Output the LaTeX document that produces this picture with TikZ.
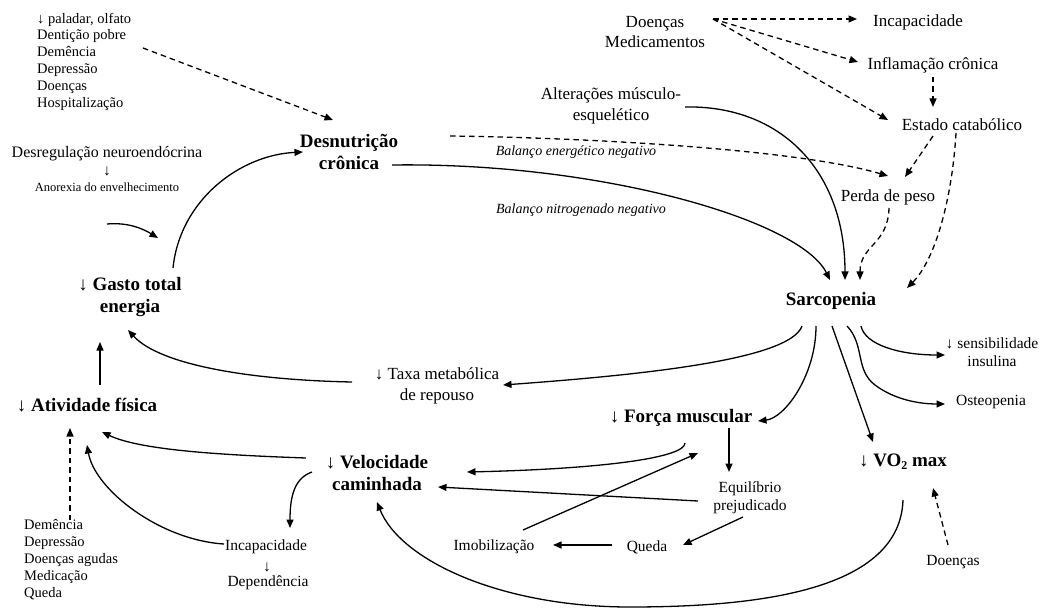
\documentclass[tikz,border=0pt]{standalone}
\usepackage{fontspec}
\setmainfont{Liberation Serif}
\usetikzlibrary{arrows.meta,calc}
\tikzset{
 bl/.style={font=\fontsize{19}{22}\selectfont\bfseries, align=center, inner sep=0pt},
 rg/.style={font=\fontsize{17}{21}\selectfont, align=center, inner sep=0pt},
 sm/.style={font=\fontsize{15.5}{18.5}\selectfont, align=center, inner sep=0pt},
 xs/.style={font=\fontsize{12.5}{14}\selectfont, align=center, inner sep=0pt},
 lst/.style={font=\fontsize{14.5}{16.8}\selectfont, align=left, inner sep=0pt, anchor=west},
 itl/.style={font=\fontsize{14}{16}\selectfont\itshape, inner sep=0pt},
 ar/.style={line width=1.3pt, -{Triangle[length=8.5pt,width=7pt]}},
 da/.style={ar, dash pattern=on 5.5pt off 4pt},
}
\begin{document}
\begin{tikzpicture}[x=1pt,y=-1pt]
\useasboundingbox (0,0) rectangle (1040,609);
% nodes
\node[lst] (list1) at (37,61.5) {↓ paladar, olfato\\Dentição pobre\\Demência\\Depressão\\Doenças\\Hospitalização};
\node[sm, font=\fontsize{16}{18.5}\selectfont] (desreg) at (107,154) {Desregulação neuroendócrina};
\node[sm] (arrA) at (107,171) {↓};
\node[xs] (anor) at (107,187) {Anorexia do envelhecimento};
\node[bl] (desn) at (349,151.5) {Desnutrição\\crônica};
\node[bl] (gasto) at (130,297.5) {↓ Gasto total\\energia};
\node[bl] (ativ) at (87,405) {↓ Atividade física};
\node[rg] (taxa) at (437,386) {↓ Taxa metabólica\\de repouso};
\node[bl] (sarc) at (831,301) {Sarcopenia};
\node[rg] (alter) at (611,106) {Alterações músculo-\\esquelético};
\node[rg, font=\fontsize{17}{20}\selectfont] (doen) at (655,32) {Doenças\\Medicamentos};
\node[rg] (incapT) at (918,22) {Incapacidade};
\node[rg] (infl) at (933,65) {Inflamação crônica};
\node[rg] (estado) at (962,125) {Estado catabólico};
\node[rg] (perda) at (888,197) {Perda de peso};
\node[itl] (balE) at (576,152) {Balanço energético negativo};
\node[itl] (balN) at (581,210) {Balanço nitrogenado negativo};
\node[sm] (sens) at (992,352) {↓ sensibilidade\\insulina};
\node[sm] (osteo) at (991,402) {Osteopenia};
\node[bl] (forca) at (681,418) {↓ Força muscular};
\node[bl] (vo2) at (903,462) {↓ VO\raisebox{-0.35ex}{\fontsize{12}{12}\selectfont 2} max};
\node[sm] (equil) at (750,498) {Equilíbrio\\prejudicado};
\node[sm] (queda) at (647,547) {Queda};
\node[sm] (imob) at (494,547) {Imobilização};
\node[bl] (veloc) at (377,472.5) {↓ Velocidade\\caminhada};
\node[sm] (incapB) at (266,547) {Incapacidade};
\node[sm] (arrB) at (267,567) {↓};
\node[sm] (dep) at (268,583) {Dependência};
\node[lst, font=\fontsize{14.5}{17}\selectfont] (dem) at (24,560) {Demência\\Depressão\\Doenças agudas\\Medicação\\Queda};
\node[sm] (doenB) at (953,562) {Doenças};
\coordinate (sa) at (158,238);
% connectors
\draw[da] ($(list1.west)+(106,-13.5)$) -- ($(desn)+(-16,-31.5)$);
\draw[ar] ($(anor)+(0,37)$) .. controls (130,222) and (145,230) .. (sa);
\draw[ar] ($(gasto)+(43,-29.5)$) .. controls (180,200) and (240,155) .. ($(desn)+(-46,0.5)$);
\draw[ar] ($(ativ)+(13,-20)$) -- ($(gasto)+(-30,44.5)$);
\draw[ar] ($(taxa)+(-85,-4)$) .. controls (250,380) and (160,365) .. ($(gasto)+(-2,32.5)$);
\draw[ar] ($(sarc)+(-29,25)$) .. controls (790,360) and (640,375) .. ($(taxa)+(66,-1)$);
\draw[ar] ($(desn)+(43,13.5)$) .. controls (600,162) and (800,220) .. ($(sarc)+(-1,-21)$);
\draw[ar] ($(alter)+(74,1)$) .. controls (780,105) and (845,170) .. ($(sarc)+(14,-21)$);
\draw[da] ($(desn)+(101,-15.5)$) .. controls (600,138) and (800,150) .. ($(perda)+(0,-21)$);
\draw[da] ($(doen)+(58,-13)$) -- ($(incapT)+(-61,-3)$);
\draw[da] ($(doen)+(58,-13)$) -- ($(infl)+(-75,-3)$);
\draw[da] ($(doen)+(58,-13)$) -- ($(estado)+(-74,-5)$);
\draw[da] ($(infl)+(0,12)$) -- ($(estado)+(-29,-18)$);
\draw[da] ($(estado)+(-29,11)$) -- ($(perda)+(17,-20)$);
\draw[da] ($(estado)+(-6,8)$) .. controls (952,200) and (935,260) .. ($(sarc)+(76,-13)$);
\draw[da] ($(perda)+(1,11)$) .. controls (888,245) and (860,245) .. ($(sarc)+(29,-21)$);
\draw[ar] ($(sarc)+(30,25)$) .. controls (865,345) and (900,355) .. ($(sens)+(-47,3)$);
\draw[ar] ($(sarc)+(16,25)$) .. controls (865,345) and (855,370) .. (875,385) .. controls (895,400) and (920,404) .. ($(osteo)+(-46,2)$);
\draw[ar] ($(sarc)+(1,25)$) -- ($(vo2)+(-30,-20)$);
\draw[ar] ($(sarc)+(-15,25)$) .. controls (816,375) and (785,418) .. ($(forca)+(77,3)$);
\draw[ar] ($(forca)+(48,10)$) -- ($(equil)+(-21,-26)$);
\draw[ar] ($(equil)+(-7,19)$) -- ($(queda)+(36,-2)$);
\draw[ar] ($(queda)+(-35,-2)$) -- ($(imob)+(59,-2)$);
\draw[ar] ($(imob)+(29,-17)$) -- ($(forca)+(17,35)$);
\draw[ar] ($(forca)+(4,25)$) .. controls (685,458) and (600,469) .. ($(veloc)+(90,-0.5)$);
\draw[ar] ($(equil)+(-52,3)$) -- ($(veloc)+(61,14.5)$);
\draw[ar] ($(vo2)+(0,38)$) .. controls (900,590) and (760,607) .. (630,607) .. controls (500,607) and (400,560) .. ($(veloc)+(0,29.5)$);
\draw[ar] ($(veloc)+(-71,-14.5)$) .. controls (220,455) and (140,450) .. ($(ativ)+(15,27)$);
\draw[ar] ($(veloc)+(-65,-0.5)$) .. controls (295,478) and (290,495) .. ($(incapB)+(24,-19)$);
\draw[ar] ($(incapB)+(-42,-3)$) .. controls (160,540) and (95,490) .. ($(ativ)+(0,40)$);
\draw[da] ($(dem.west)+(46,-40)$) -- ($(ativ)+(-17,23)$);
\draw[da] ($(doenB)+(-5,-17)$) -- ($(vo2)+(30,26)$);
\end{tikzpicture}
\end{document}
